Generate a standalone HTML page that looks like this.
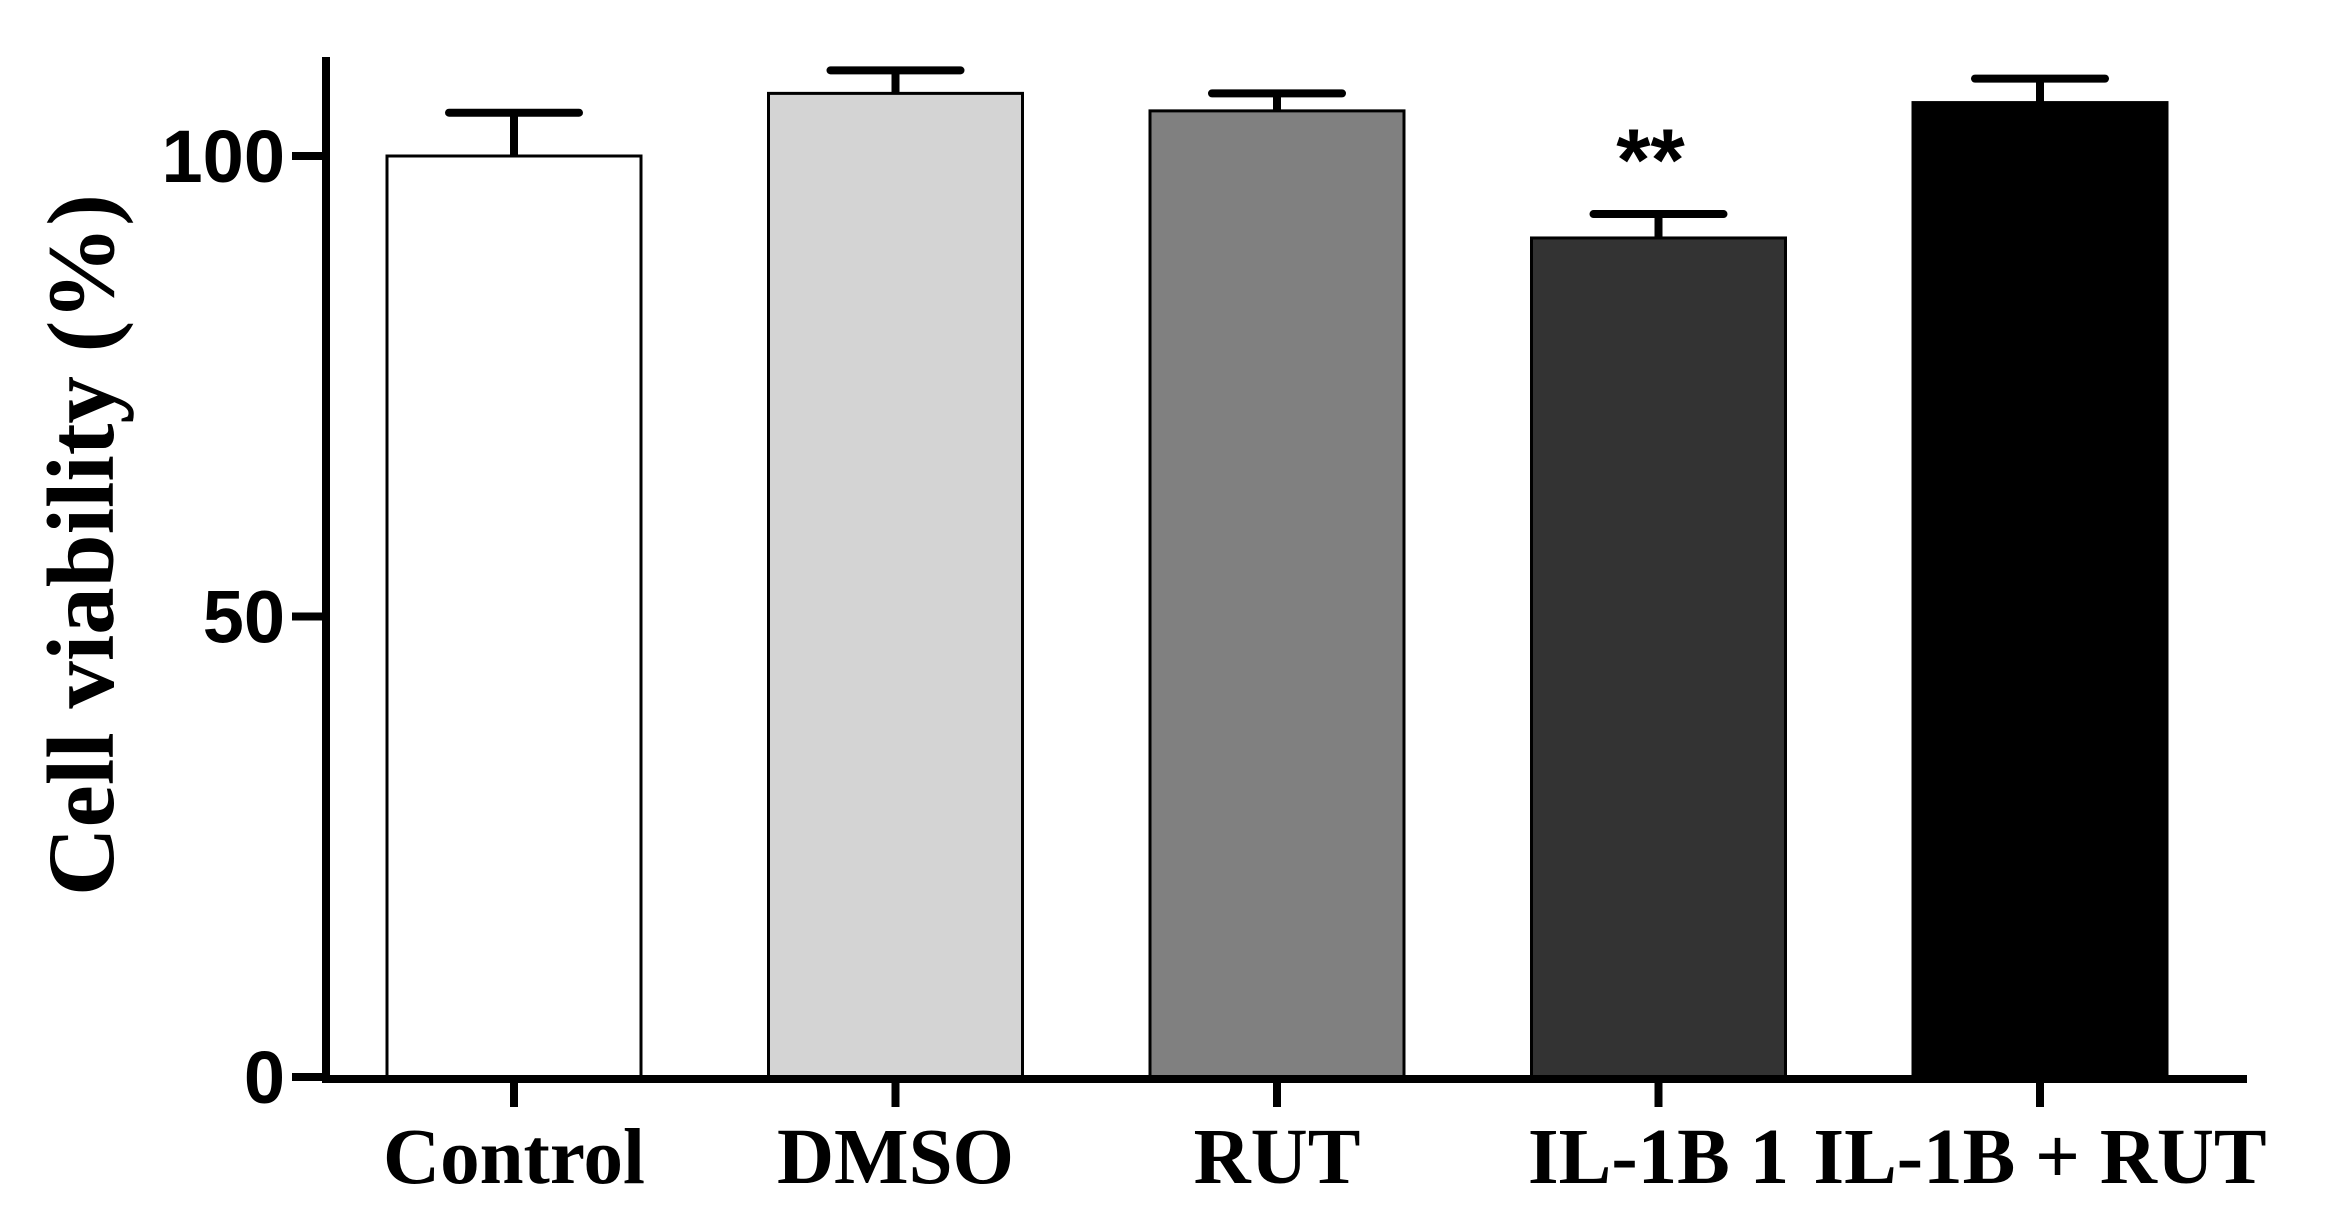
<!DOCTYPE html>
<html><head><meta charset="utf-8"><style>
html,body{margin:0;padding:0;background:#fff;}
svg{display:block;}
</style></head><body>
<svg id="chart" width="2335" height="1227" viewBox="0 0 2335 1227" xmlns="http://www.w3.org/2000/svg">
<text transform="translate(113,545) rotate(-90)" text-anchor="middle" font-family="'Liberation Serif',serif" font-weight="bold" font-size="95">Cell viability (%)</text>
<g id="plot"></g>
</svg>
<script>
const categories = ["Control","DMSO","RUT","IL-1B 1","IL-1B + RUT"];
const values = [100, 106.8, 104.9, 91.1, 105.8];
const errors = [4.7, 2.5, 1.9, 2.6, 2.6];
const fills = ["#ffffff","#d4d4d4","#808080","#333333","#000000"];
const yTicks = [0, 50, 100];
const signif = ["", "", "", "**", ""];

const ns = "http://www.w3.org/2000/svg";
const g = document.getElementById('plot');
const y0 = 1077, yPerUnit = 9.21;
const yS = v => y0 - v * yPerUnit;
const barLeft0 = 387, barStep = 381.5, barW = 254;
const xC = i => barLeft0 + i * barStep + barW / 2;
function mk(tag, attrs){ const e = document.createElementNS(ns, tag); for (const k in attrs) e.setAttribute(k, attrs[k]); g.appendChild(e); return e; }

categories.forEach((c, i) => {
  const cx = xC(i);
  const top = yS(values[i] + errors[i]);
  const eb = mk('line', {x1: cx, x2: cx, y1: yS(values[i]), y2: top, stroke: '#000', 'stroke-width': 8});
  
  
  const cap = mk('line', {x1: cx - 65, x2: cx + 65, y1: top, y2: top, stroke: '#000', 'stroke-width': 8, 'stroke-linecap': 'round'});
  
  
  const r = mk('rect', {x: cx - barW / 2, y: yS(values[i]), width: barW, height: y0 - yS(values[i]), fill: fills[i], stroke: '#000', 'stroke-width': 3});
  
  
  const t = mk('line', {x1: cx, x2: cx, y1: y0, y2: 1107, stroke: '#000', 'stroke-width': 8});
  
  
  const lab = mk('text', {x: cx, y: 1183, 'text-anchor': 'middle', 'font-family': "'Liberation Serif',serif", 'font-weight': 'bold', 'font-size': 79});
  lab.textContent = c;
  
  
  if (signif[i]) {
    const s = mk('text', {x: cx - 8, y: top - 24, 'text-anchor': 'middle', 'font-family': "'Liberation Sans',sans-serif", 'font-weight': 'bold', 'font-size': 88});
    s.textContent = signif[i];
    
    
  }
});

yTicks.forEach(v => {
  const y = yS(v);
  const t = mk('line', {x1: 292, x2: 326, y1: y, y2: y, stroke: '#000', 'stroke-width': 8});
  
  
  const l = mk('text', {x: 285, y: y + 26, 'text-anchor': 'end', 'font-family': "'Liberation Sans',sans-serif", 'font-weight': 'bold', 'font-size': 74});
  l.textContent = v;
  
  
});

const ya = mk('line', {x1: 326, x2: 326, y1: 57, y2: 1082, stroke: '#000', 'stroke-width': 8});


const xa = mk('line', {x1: 322, x2: 2247, y1: 1079, y2: 1079, stroke: '#000', 'stroke-width': 8});


</script>
</body></html>
